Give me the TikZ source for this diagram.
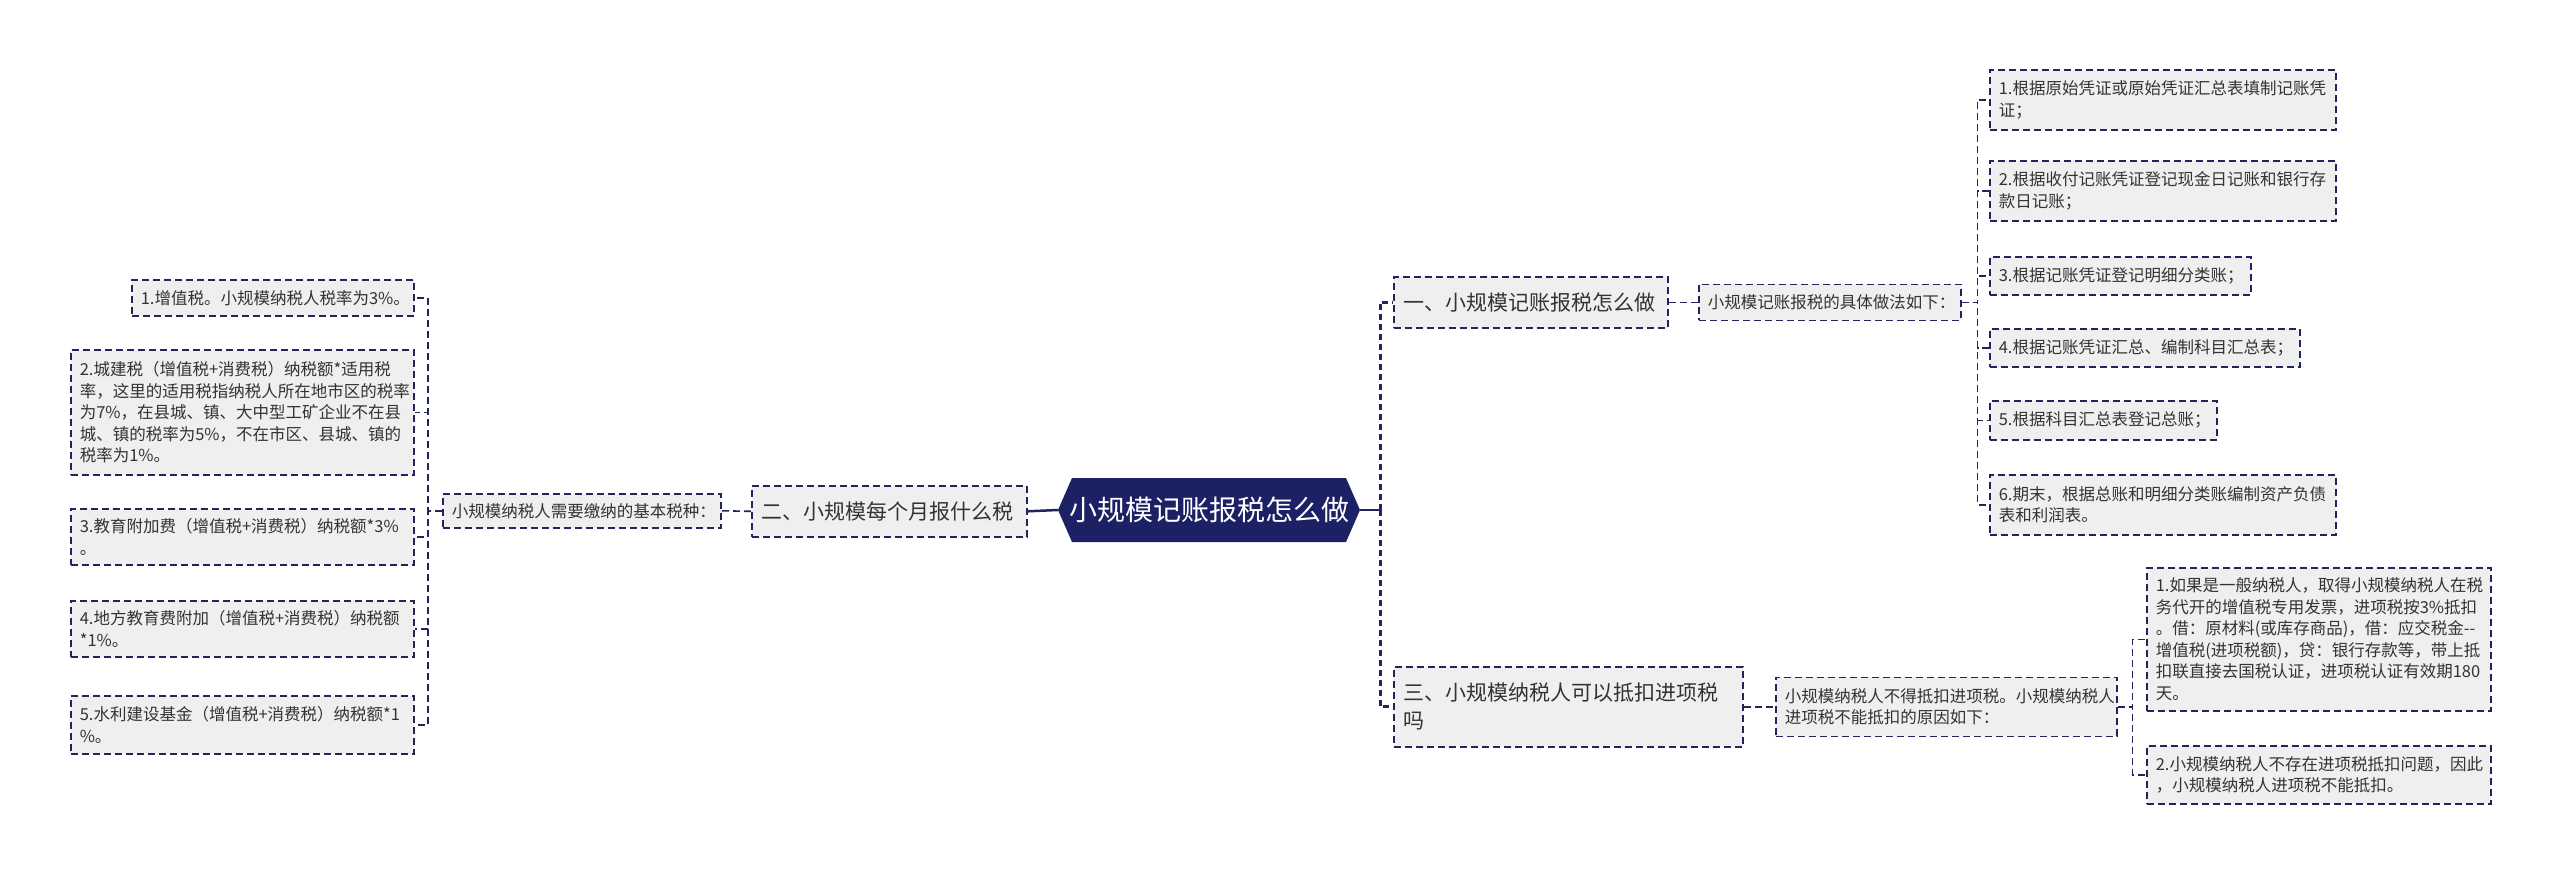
\documentclass[tikz,border=0pt]{standalone}
\usepackage{fontspec}
\setmainfont{Noto Sans CJK SC}
\newfontfamily\cjk{Noto Sans CJK SC}
\definecolor{lineC}{RGB}{32,38,92}
\definecolor{centerC}{RGB}{27,33,100}
\definecolor{boxC}{RGB}{239,239,239}
\definecolor{txtC}{RGB}{51,51,51}
\tikzset{
  box/.style={draw=lineC, fill=boxC, dash pattern=on 7pt off 4pt, line width=1.6pt,
    anchor=north west, inner xsep=9pt, inner ysep=0pt, align=left, text=txtC,
    font=\cjk\fontsize{16.5}{21.5}\selectfont},
  bigbox/.style={box, inner xsep=10pt, font=\cjk\fontsize{21}{28}\selectfont},
  conn/.style={draw=lineC, dash pattern=on 7pt off 4pt, line width=1.6pt},
  bus/.style={draw=lineC, dash pattern=on 6pt off 4pt, line width=3pt},
  mainline/.style={draw=lineC, line width=2.5pt}
}
\begin{document}
\begin{tikzpicture}[x=1pt,y=-1pt]
\useasboundingbox[fill=white] (0,0) rectangle (2560,873);
% center
\node[minimum width=302pt, minimum height=64pt, inner sep=0pt, text=white,
  font=\cjk\fontsize{28}{32}\selectfont,
  path picture={\fill[centerC] (path picture bounding box.west)
     -- ([xshift=14pt]path picture bounding box.north west)
     -- ([xshift=-14pt]path picture bounding box.north east)
     -- (path picture bounding box.east)
     -- ([xshift=-14pt]path picture bounding box.south east)
     -- ([xshift=14pt]path picture bounding box.south west) -- cycle;}]
  (c) at (1209,510) {小规模记账报税怎么做};
% left branch
\node[bigbox, text width=255pt, minimum height=51pt] (er) at (751,485) {二、小规模每个月报什么税};
\node[box, text width=260pt, minimum height=34pt] (need) at (442,493) {小规模纳税人需要缴纳的基本税种：};
\node[box, text width=264pt, minimum height=36pt] (L1) at (131,279) {1.增值税。小规模纳税人税率为3\%。};
\node[box, text width=325pt, minimum height=125pt] (L2) at (70,349) {2.城建税（增值税+消费税）纳税额*适用税\\率，这里的适用税指纳税人所在地市区的税率\\为7\%，在县城、镇、大中型工矿企业不在县\\城、镇的税率为5\%，不在市区、县城、镇的\\税率为1\%。};
\node[box, text width=325pt, minimum height=56pt] (L3) at (70,508) {3.教育附加费（增值税+消费税）纳税额*3\%\\。};
\node[box, text width=325pt, minimum height=56pt] (L4) at (70,600) {4.地方教育费附加（增值税+消费税）纳税额\\{}*1\%。};
\node[box, text width=325pt, minimum height=58pt] (L5) at (70,695) {5.水利建设基金（增值税+消费税）纳税额*1\\\%。};
% right branch 1
\node[bigbox, text width=254pt, minimum height=51pt] (yi) at (1393,276) {一、小规模记账报税怎么做};
\node[box, text width=244pt, minimum height=36pt] (juti) at (1698,283.5) {小规模记账报税的具体做法如下：};
\node[box, text width=328pt, minimum height=60pt] (r1) at (1989,69) {1.根据原始凭证或原始凭证汇总表填制记账凭\\证；};
\node[box, text width=328pt, minimum height=60pt] (r2) at (1989,160) {2.根据收付记账凭证登记现金日记账和银行存\\款日记账；};
\node[box, text width=243pt, minimum height=38pt] (r3) at (1989,256) {3.根据记账凭证登记明细分类账；};
\node[box, text width=292pt, minimum height=38pt] (r4) at (1989,328) {4.根据记账凭证汇总、编制科目汇总表；};
\node[box, text width=209pt, minimum height=39pt] (r5) at (1989,400) {5.根据科目汇总表登记总账；};
\node[box, text width=328pt, minimum height=60pt] (r6) at (1989,474) {6.期末，根据总账和明细分类账编制资产负债\\表和利润表。};
% right branch 3
\node[bigbox, text width=329pt, minimum height=80pt] (san) at (1393,666) {三、小规模纳税人可以抵扣进项税\\吗};
\node[box, text width=323pt, minimum height=59pt] (bude) at (1775,676.5) {小规模纳税人不得抵扣进项税。小规模纳税人\\进项税不能抵扣的原因如下：};
\node[box, text width=326pt, minimum height=143pt] (s1) at (2146,567) {1.如果是一般纳税人，取得小规模纳税人在税\\务代开的增值税专用发票，进项税按3\%抵扣\\。借：原材料(或库存商品)，借：应交税金--\\增值税(进项税额)，贷：银行存款等，带上抵\\扣联直接去国税认证，进项税认证有效期180\\天。};
\node[box, text width=326pt, minimum height=58pt] (s2) at (2146,745) {2.小规模纳税人不存在进项税抵扣问题，因此\\，小规模纳税人进项税不能抵扣。};
% connectors
\draw[mainline] (c.west) -- (er.east);
\draw[conn] (er.west) -- (need.east);
\foreach \n in {L1,L2,L3,L4,L5} \draw[conn] (need.west) -- ++(-14,0) |- (\n.east);
\coordinate (rb) at (1380,510);
\draw[mainline] (c.east) -- (rb);
\draw[bus] (rb) |- (yi.west);
\draw[bus] (rb) |- (san.west);
\draw[conn] (yi.east) -- (juti.west);
\foreach \n in {r1,r2,r3,r4,r5,r6} \draw[conn] (juti.east) -- ++(16,0) |- (\n.west);
\draw[conn] (san.east) -- (bude.west);
\foreach \n in {s1,s2} \draw[conn] (bude.east) -- ++(15,0) |- (\n.west);
\end{tikzpicture}
\end{document}
